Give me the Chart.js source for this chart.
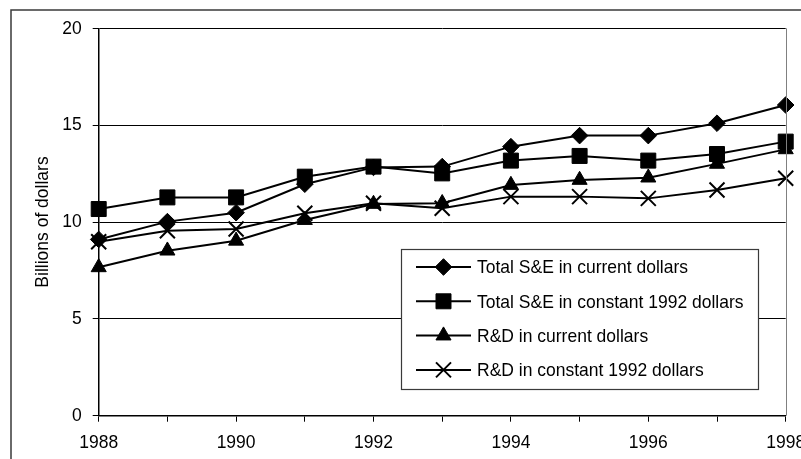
<!DOCTYPE html>
<html><head><meta charset="utf-8">
<script src="https://cdn.jsdelivr.net/npm/chart.js@4.4.1/dist/chart.umd.min.js"></script>
<style>
html,body{margin:0;padding:0;background:#fff;overflow:hidden;width:801px;height:459px;}
#wrap{position:absolute;left:0;top:0;width:830px;height:472px;}
</style></head><body>
<div id="wrap"><canvas id="c" width="830" height="472"></canvas></div>
<script>
// ---- data ----
const years = [1988, 1989, 1990, 1991, 1992, 1993, 1994, 1995, 1996, 1997, 1998];
const totalSECurrent  = [9.10, 10.02, 10.48, 11.95, 12.82, 12.86, 13.89, 14.46, 14.46, 15.10, 16.04];
const totalSEConstant = [10.67, 11.27, 11.27, 12.34, 12.86, 12.51, 13.17, 13.41, 13.17, 13.51, 14.15];
const rdCurrent       = [7.66, 8.52, 9.03, 10.10, 10.93, 10.97, 11.91, 12.17, 12.29, 13.00, 13.75];
const rdConstant      = [8.98, 9.55, 9.64, 10.45, 10.97, 10.71, 11.31, 11.31, 11.22, 11.65, 12.26];
const seriesLabels = [
  'Total S&E in current dollars',
  'Total S&E in constant 1992 dollars',
  'R&D in current dollars',
  'R&D in constant 1992 dollars'
];
const yTickValues = [0, 5, 10, 15, 20];
const xTickLabels = [1988, 1990, 1992, 1994, 1996, 1998];
const yAxisTitle = 'Billions of dollars';

const family = '"Liberation Sans", Arial, sans-serif';
const fsize = 17.5;
const font = {family: family, size: fsize, lineHeight: 1.2};
const TEXT_STRETCH_Y = 1.1;

const canvas = document.getElementById('c');
const ctx0 = canvas.getContext('2d');
ctx0.fillText = function(t, x, y, mw){
  this.save();
  this.translate(x, y);
  this.scale(1, TEXT_STRETCH_Y);
  if (mw === undefined) CanvasRenderingContext2D.prototype.fillText.call(this, t, 0, 0);
  else CanvasRenderingContext2D.prototype.fillText.call(this, t, 0, 0, mw);
  this.restore();
};

const styles = [
  {pointStyle: 'rectRot', radius: 8.3, borderWidth: 1},
  {pointStyle: 'rect', radius: 10.6, borderWidth: 1},
  {pointStyle: 'triangle', radius: 8.7, borderWidth: 1},
  {pointStyle: 'crossRot', radius: 10.6, borderWidth: 2}
];
const seriesValues = [totalSECurrent, totalSEConstant, rdCurrent, rdConstant];

const datasets = seriesValues.map((vals, i) => ({
  label: seriesLabels[i],
  data: years.map((y, j) => ({x: y, y: vals[j]})),
  borderColor: '#000',
  backgroundColor: '#000',
  borderWidth: 2,
  tension: 0,
  pointStyle: styles[i].pointStyle,
  pointRadius: styles[i].radius,
  pointBorderWidth: styles[i].borderWidth,
  pointBackgroundColor: '#000',
  pointBorderColor: '#000',
  clip: false
}));

function drawMarker(ctx, st, x, y){
  if (Chart.helpers && Chart.helpers.drawPoint) {
    ctx.fillStyle = '#000'; ctx.strokeStyle = '#000'; ctx.lineWidth = st.borderWidth;
    Chart.helpers.drawPoint(ctx, {pointStyle: st.pointStyle, radius: st.radius, rotation: 0, borderWidth: st.borderWidth}, x, y);
  }
}

const framePlugin = {
  id: 'frame',
  beforeDraw(chart){
    const ctx = chart.ctx;
    ctx.save();
    ctx.fillStyle = '#fff';
    ctx.fillRect(0, 0, chart.width, chart.height);
    ctx.strokeStyle = '#3a3a3a';
    ctx.lineWidth = 1.5;
    ctx.strokeRect(11, 10, 1000, 1000);
    ctx.restore();
  },
  afterDatasetsDraw(chart){
    const ctx = chart.ctx, a = chart.chartArea;
    ctx.save();
    ctx.strokeStyle = '#808080'; ctx.lineWidth = 1;
    ctx.beginPath(); ctx.moveTo(Math.round(a.right) + 0.5, a.top); ctx.lineTo(Math.round(a.right) + 0.5, a.bottom); ctx.stroke();
    const bx = 401, by = 249, bw = 357, bh = 140;
    ctx.fillStyle = '#fff'; ctx.fillRect(bx, by, bw, bh);
    ctx.strokeStyle = '#3a3a3a'; ctx.lineWidth = 1.2;
    ctx.strokeRect(bx + 0.5, by + 0.5, bw, bh);
    ctx.font = fsize + 'px ' + family;
    ctx.textBaseline = 'middle'; ctx.textAlign = 'left';
    chart.data.datasets.forEach((ds, i) => {
      const y = by + 18 + i * 34.3;
      ctx.strokeStyle = '#000'; ctx.lineWidth = 2;
      ctx.beginPath(); ctx.moveTo(bx + 15, y); ctx.lineTo(bx + 70, y); ctx.stroke();
      drawMarker(ctx, styles[i], bx + 42.5, y);
      ctx.fillStyle = '#000';
      ctx.fillText(ds.label, bx + 76, y + 1);
    });
    ctx.restore();
  }
};

new Chart(canvas, {
  type: 'line',
  data: {datasets: datasets},
  options: {
    responsive: false,
    animation: false,
    devicePixelRatio: 1,
    layout: {padding: {left: 12, top: 28.3, right: 44.3, bottom: 0}},
    plugins: {legend: {display: false}, tooltip: {enabled: false}},
    scales: {
      x: {
        type: 'linear',
        min: 1988, max: 1998,
        afterBuildTicks(scale){ scale.ticks = years.map(v => ({value: v})); },
        afterFit(scale){ scale.height = 472 - 415.7; },
        grid: {display: true, drawOnChartArea: false, drawTicks: true, tickLength: 6, color: '#000', lineWidth: 1},
        border: {display: true, color: '#000', width: 1.5},
        ticks: {
          autoSkip: false, maxRotation: 0, padding: 10, color: '#000', font: font,
          callback: v => xTickLabels.includes(v) ? String(v) : ''
        }
      },
      y: {
        min: 0, max: 20,
        afterBuildTicks(scale){ scale.ticks = yTickValues.map(v => ({value: v})); },
        afterFit(scale){ scale.width = 98.7 - 12; },
        grid: {display: true, drawOnChartArea: true, drawTicks: true, tickLength: 6, color: '#000', lineWidth: 1},
        border: {display: true, color: '#000', width: 1.5},
        ticks: {padding: 11, color: '#000', font: font},
        title: {display: true, text: yAxisTitle, color: '#000', font: font, padding: {top: 20, bottom: 0}}
      }
    }
  },
  plugins: [framePlugin]
});
</script>
</body></html>
